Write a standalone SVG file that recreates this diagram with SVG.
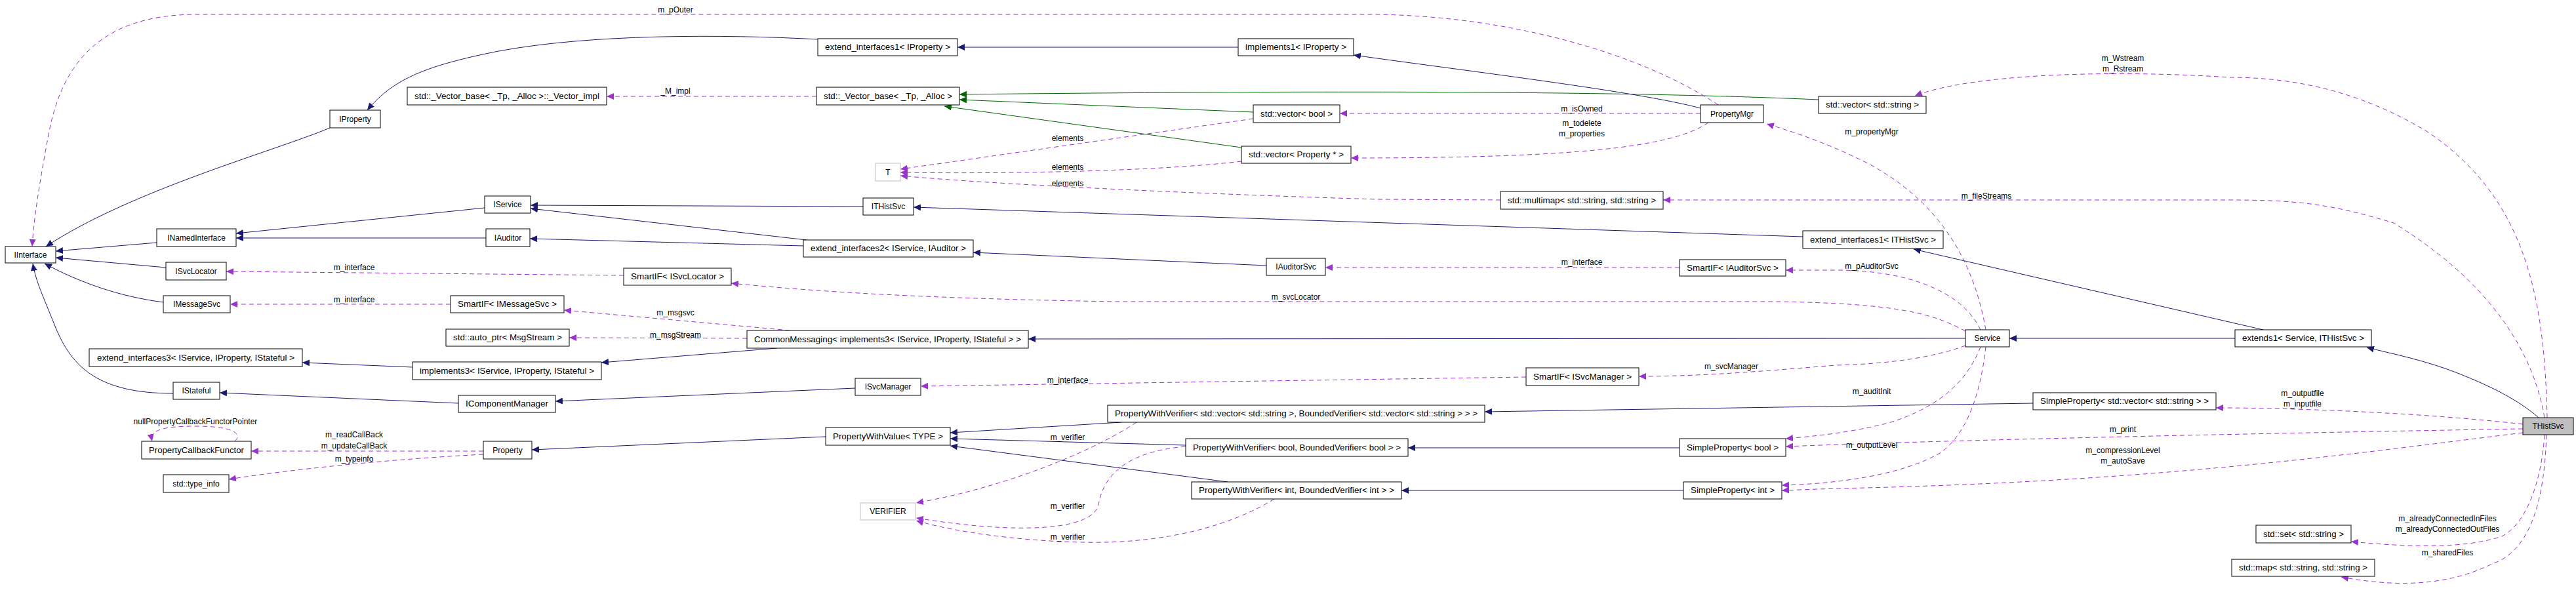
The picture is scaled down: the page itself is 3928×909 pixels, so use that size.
<svg xmlns="http://www.w3.org/2000/svg" width="3928" height="909" viewBox="0 0 3928 909">
<style>
.n rect{fill:#fff;stroke:#000;stroke-width:1}
.n.g rect{stroke:#bfbfbf}
.n.h rect{fill:#bfbfbf}
.n text{font-family:"Liberation Sans",Arial,sans-serif;font-size:12px;text-anchor:middle;fill:#000}
.i{fill:none;stroke:#191970;stroke-width:1;marker-end:url(#ai)}
.t{fill:none;stroke:#006400;stroke-width:1;marker-end:url(#at)}
.u{fill:none;stroke:#9a32cd;stroke-width:1;stroke-dasharray:7,5;marker-end:url(#au)}
.l{font-family:"Liberation Sans",Arial,sans-serif;font-size:12px;text-anchor:middle;fill:#000}
</style>
<defs>
<marker id="ai" markerUnits="userSpaceOnUse" markerWidth="12" markerHeight="10" refX="11" refY="5" orient="auto"><path d="M0,0 L11,5 L0,10 z" fill="#191970"/></marker>
<marker id="at" markerUnits="userSpaceOnUse" markerWidth="12" markerHeight="10" refX="11" refY="5" orient="auto"><path d="M0,0 L11,5 L0,10 z" fill="#006400"/></marker>
<marker id="au" markerUnits="userSpaceOnUse" markerWidth="12" markerHeight="10" refX="11" refY="5" orient="auto"><path d="M0,0 L11,5 L0,10 z" fill="#9a32cd"/></marker>
</defs>
<rect width="3928" height="909" fill="#fff"/>
<g id="edges">
<path class="i" d="M503,195 C420,230 200,290 70,376"/>
<path class="i" d="M239,370 L85,383"/>
<path class="i" d="M253,408 L85,393"/>
<path class="i" d="M249,461 C180,452 120,430 68,402"/>
<path class="i" d="M264,600 C150,600 110,560 85,500 C65,450 55,430 50,402"/>
<path class="i" d="M1247,60 C1100,52 900,52 760,78 C650,100 600,120 560,168"/>
<path class="i" d="M1888,72 L1460,72"/>
<path class="i" d="M2593,165 C2500,140 2250,110 2064,84"/>
<path class="i" d="M739,317 L360,356"/>
<path class="i" d="M741,363 L360,363"/>
<path class="i" d="M1316,315 L809,313"/>
<path class="i" d="M1230,366 L809,318"/>
<path class="i" d="M1225,375 L808,364"/>
<path class="i" d="M1931,405 L1484,385"/>
<path class="i" d="M2749,361 L1393,316"/>
<path class="i" d="M3451,503 L2918,380"/>
<path class="i" d="M3408,516 L3064,516"/>
<path class="i" d="M3871,637 C3840,610 3800,590 3750,570 C3700,550 3650,540 3609,530"/>
<path class="i" d="M2997,516 L1568,517"/>
<path class="i" d="M1185,531 L917,553"/>
<path class="i" d="M629,560 L461,553"/>
<path class="i" d="M1304,592 L847,612"/>
<path class="i" d="M699,615 L335,599"/>
<path class="i" d="M1259,666 L811,686"/>
<path class="i" d="M1710,644 L1449,660"/>
<path class="i" d="M1808,679 L1449,669"/>
<path class="i" d="M1872,735 L1449,680"/>
<path class="i" d="M3100,615 L2264,628"/>
<path class="i" d="M2561,683 L2147,683"/>
<path class="i" d="M2567,748 L2137,748"/>
<path class="t" d="M2773,152 C2500,140 2100,137 1463,144"/>
<path class="t" d="M1911,171 L1463,152"/>
<path class="t" d="M1893,225 L1440,162"/>
<path class="u" d="M2620,160 C2500,80 2300,25 2100,22 L300,22 C150,22 95,100 75,200 C60,280 52,330 49,376"/>
<path class="u" d="M1245,147 L925,147"/>
<path class="u" d="M2593,173 L2043,173"/>
<path class="u" d="M2605,187 C2550,225 2400,241 2060,241"/>
<path class="u" d="M1911,181 L1373,258"/>
<path class="u" d="M1893,246 C1750,263 1500,265 1373,263"/>
<path class="u" d="M2288,305 L2100,304 C1800,295 1500,280 1373,268"/>
<path class="u" d="M3880,637 C3860,520 3780,420 3650,340 C3550,310 3500,305 3400,305 L2536,305"/>
<path class="u" d="M3884,637 C3880,450 3850,300 3700,200 C3600,140 3500,118 3400,118 C3200,105 3000,115 2920,146"/>
<path class="u" d="M3028,503 C3010,400 2960,310 2850,250 C2780,215 2730,200 2694,189"/>
<path class="u" d="M3020,503 C2990,440 2900,412 2800,412 L2723,412"/>
<path class="u" d="M2561,408 L2021,408"/>
<path class="u" d="M2997,505 C2950,480 2900,462 2700,460 L1700,460 C1400,455 1250,445 1115,432"/>
<path class="u" d="M951,420 L345,414"/>
<path class="u" d="M687,464 L351,464"/>
<path class="u" d="M1205,504 L860,473"/>
<path class="u" d="M1139,516 L868,515"/>
<path class="u" d="M2997,527 C2950,545 2880,555 2800,557 C2700,565 2600,574 2499,574"/>
<path class="u" d="M2327,575 L1404,589"/>
<path class="u" d="M3020,529 C3000,580 2960,620 2880,645 C2820,660 2770,665 2723,669"/>
<path class="u" d="M3028,529 C3020,600 3000,660 2960,690 C2900,725 2800,738 2717,740"/>
<path class="u" d="M3847,654 C3500,660 3000,670 2723,681"/>
<path class="u" d="M3847,660 C3600,690 3300,735 2800,745 L2717,748"/>
<path class="u" d="M3847,647 C3700,630 3500,622 3379,622"/>
<path class="u" d="M3880,663 C3875,740 3850,800 3815,818 C3750,840 3650,832 3585,826"/>
<path class="u" d="M3883,663 C3880,760 3860,840 3800,860 C3730,895 3650,895 3570,880"/>
<path class="u" d="M737,688 L383,688"/>
<path class="u" d="M737,693 C600,700 450,715 349,731"/>
<path class="u" d="M358,673 C372,660 350,650 300,650 C250,650 228,655 232,673"/>
<path class="u" d="M1733,644 C1680,680 1550,740 1397,767"/>
<path class="u" d="M1808,681 C1700,690 1680,740 1675,770 C1665,810 1550,815 1397,790"/>
<path class="u" d="M1943,761 C1880,800 1780,830 1650,827 C1550,825 1450,810 1397,794"/>
</g>
<g id="labels">
<text class="l" x="1030" y="19">m_pOuter</text>
<text class="l" x="1030" y="143">_M_impl</text>
<text class="l" x="2412" y="170">m_isOwned</text>
<text class="l" x="2412" y="192">m_todelete</text>
<text class="l" x="2412" y="208">m_properties</text>
<text class="l" x="1628" y="215">elements</text>
<text class="l" x="1628" y="259">elements</text>
<text class="l" x="1628" y="284">elements</text>
<text class="l" x="3237" y="93">m_Wstream</text>
<text class="l" x="3237" y="109">m_Rstream</text>
<text class="l" x="2854" y="205">m_propertyMgr</text>
<text class="l" x="3029" y="303">m_fileStreams</text>
<text class="l" x="2854" y="410">m_pAuditorSvc</text>
<text class="l" x="2412" y="404">m_interface</text>
<text class="l" x="540" y="412">m_interface</text>
<text class="l" x="540" y="461">m_interface</text>
<text class="l" x="1976" y="457">m_svcLocator</text>
<text class="l" x="1030" y="481">m_msgsvc</text>
<text class="l" x="1030" y="515">m_msgStream</text>
<text class="l" x="2640" y="563">m_svcManager</text>
<text class="l" x="1628" y="584">m_interface</text>
<text class="l" x="2854" y="601">m_auditInit</text>
<text class="l" x="3511" y="604">m_outputfile</text>
<text class="l" x="3511" y="620">m_inputfile</text>
<text class="l" x="3237" y="659">m_print</text>
<text class="l" x="2854" y="683">m_outputLevel</text>
<text class="l" x="3237" y="691">m_compressionLevel</text>
<text class="l" x="3237" y="707">m_autoSave</text>
<text class="l" x="1628" y="671">m_verifier</text>
<text class="l" x="1628" y="776">m_verifier</text>
<text class="l" x="1628" y="823">m_verifier</text>
<text class="l" x="298" y="647">nullPropertyCallbackFunctorPointer</text>
<text class="l" x="540" y="667">m_readCallBack</text>
<text class="l" x="540" y="684">m_updateCallBack</text>
<text class="l" x="540" y="704">m_typeinfo</text>
<text class="l" x="3732" y="795">m_alreadyConnectedInFiles</text>
<text class="l" x="3732" y="811">m_alreadyConnectedOutFiles</text>
<text class="l" x="3732" y="847">m_sharedFiles</text>
</g>
<g id="IInterface" class="n"><rect x="8" y="376" width="77" height="25"/><text x="46.5" y="392.5">IInterface</text></g>
<g id="IProperty" class="n"><rect x="503" y="168" width="77" height="27"/><text x="541.5" y="185.5">IProperty</text></g>
<g id="INamedInterface" class="n"><rect x="239" y="349" width="121" height="27"/><text x="299.5" y="366.5">INamedInterface</text></g>
<g id="ISvcLocator" class="n"><rect x="253" y="400" width="92" height="27"/><text x="299" y="417.5">ISvcLocator</text></g>
<g id="IMessageSvc" class="n"><rect x="249" y="451" width="102" height="26"/><text x="300" y="468">IMessageSvc</text></g>
<g id="extend_interfaces3" class="n"><rect x="136" y="532" width="325" height="27"/><text x="298.5" y="549.5" textLength="301" lengthAdjust="spacingAndGlyphs">extend_interfaces3&lt; IService, IProperty, IStateful &gt;</text></g>
<g id="IStateful" class="n"><rect x="264" y="583" width="71" height="26"/><text x="299.5" y="600">IStateful</text></g>
<g id="PropertyCallbackFunctor" class="n"><rect x="216" y="673" width="167" height="27"/><text x="299.5" y="690.5" textLength="145" lengthAdjust="spacingAndGlyphs">PropertyCallbackFunctor</text></g>
<g id="type_info" class="n"><rect x="249" y="724" width="100" height="27"/><text x="299" y="741.5">std::type_info</text></g>
<g id="Vector_impl" class="n"><rect x="621" y="133" width="304" height="27"/><text x="773" y="150.5" textLength="282" lengthAdjust="spacingAndGlyphs">std::_Vector_base&lt; _Tp, _Alloc &gt;::_Vector_impl</text></g>
<g id="Vector_base" class="n"><rect x="1245" y="133" width="218" height="27"/><text x="1354" y="150.5" textLength="196" lengthAdjust="spacingAndGlyphs">std::_Vector_base&lt; _Tp, _Alloc &gt;</text></g>
<g id="extend_interfaces1_IProperty" class="n"><rect x="1247" y="59" width="213" height="26"/><text x="1353.5" y="76" textLength="191" lengthAdjust="spacingAndGlyphs">extend_interfaces1&lt; IProperty &gt;</text></g>
<g id="T" class="n g"><rect x="1335" y="249" width="38" height="27"/><text x="1354" y="266.5">T</text></g>
<g id="IService" class="n"><rect x="739" y="299" width="70" height="26"/><text x="774" y="316">IService</text></g>
<g id="IAuditor" class="n"><rect x="741" y="349" width="67" height="27"/><text x="774.5" y="366.5">IAuditor</text></g>
<g id="ITHistSvc" class="n"><rect x="1316" y="302" width="77" height="26"/><text x="1354.5" y="319">ITHistSvc</text></g>
<g id="extend_interfaces2" class="n"><rect x="1225" y="366" width="259" height="26"/><text x="1354.5" y="383" textLength="237" lengthAdjust="spacingAndGlyphs">extend_interfaces2&lt; IService, IAuditor &gt;</text></g>
<g id="SmartIF_ISvcLocator" class="n"><rect x="951" y="409" width="164" height="26"/><text x="1033" y="426" textLength="142" lengthAdjust="spacingAndGlyphs">SmartIF&lt; ISvcLocator &gt;</text></g>
<g id="SmartIF_IMessageSvc" class="n"><rect x="687" y="451" width="173" height="26"/><text x="773.5" y="468" textLength="151" lengthAdjust="spacingAndGlyphs">SmartIF&lt; IMessageSvc &gt;</text></g>
<g id="auto_ptr" class="n"><rect x="680" y="502" width="188" height="26"/><text x="774" y="519" textLength="166" lengthAdjust="spacingAndGlyphs">std::auto_ptr&lt; MsgStream &gt;</text></g>
<g id="implements3" class="n"><rect x="629" y="552" width="288" height="27"/><text x="773" y="569.5" textLength="266" lengthAdjust="spacingAndGlyphs">implements3&lt; IService, IProperty, IStateful &gt;</text></g>
<g id="IComponentManager" class="n"><rect x="699" y="603" width="148" height="26"/><text x="773" y="620" textLength="126" lengthAdjust="spacingAndGlyphs">IComponentManager</text></g>
<g id="Property" class="n"><rect x="737" y="673" width="74" height="27"/><text x="774" y="690.5">Property</text></g>
<g id="CommonMessaging" class="n"><rect x="1139" y="504" width="429" height="27"/><text x="1353.5" y="521.5" textLength="407" lengthAdjust="spacingAndGlyphs">CommonMessaging&lt; implements3&lt; IService, IProperty, IStateful &gt; &gt;</text></g>
<g id="ISvcManager" class="n"><rect x="1304" y="577" width="100" height="26"/><text x="1354" y="594">ISvcManager</text></g>
<g id="PropertyWithValue" class="n"><rect x="1259" y="652" width="190" height="27"/><text x="1354" y="669.5" textLength="168" lengthAdjust="spacingAndGlyphs">PropertyWithValue&lt; TYPE &gt;</text></g>
<g id="VERIFIER" class="n g"><rect x="1312" y="767" width="84" height="26"/><text x="1354" y="784">VERIFIER</text></g>
<g id="implements1" class="n"><rect x="1888" y="59" width="176" height="26"/><text x="1976" y="76" textLength="154" lengthAdjust="spacingAndGlyphs">implements1&lt; IProperty &gt;</text></g>
<g id="vector_bool" class="n"><rect x="1911" y="160" width="132" height="27"/><text x="1977" y="177.5" textLength="110" lengthAdjust="spacingAndGlyphs">std::vector&lt; bool &gt;</text></g>
<g id="vector_Property" class="n"><rect x="1893" y="223" width="167" height="26"/><text x="1976.5" y="240" textLength="145" lengthAdjust="spacingAndGlyphs">std::vector&lt; Property * &gt;</text></g>
<g id="IAuditorSvc" class="n"><rect x="1931" y="394" width="90" height="26"/><text x="1976" y="411">IAuditorSvc</text></g>
<g id="PWV_vector" class="n"><rect x="1689" y="618" width="575" height="26"/><text x="1976.5" y="635" textLength="553" lengthAdjust="spacingAndGlyphs">PropertyWithVerifier&lt; std::vector&lt; std::string &gt;, BoundedVerifier&lt; std::vector&lt; std::string &gt; &gt; &gt;</text></g>
<g id="PWV_bool" class="n"><rect x="1808" y="669" width="339" height="27"/><text x="1977.5" y="686.5" textLength="317" lengthAdjust="spacingAndGlyphs">PropertyWithVerifier&lt; bool, BoundedVerifier&lt; bool &gt; &gt;</text></g>
<g id="PWV_int" class="n"><rect x="1817" y="735" width="320" height="26"/><text x="1977" y="752" textLength="298" lengthAdjust="spacingAndGlyphs">PropertyWithVerifier&lt; int, BoundedVerifier&lt; int &gt; &gt;</text></g>
<g id="PropertyMgr" class="n"><rect x="2593" y="160" width="96" height="27"/><text x="2641" y="177.5">PropertyMgr</text></g>
<g id="vector_string" class="n"><rect x="2773" y="147" width="164" height="26"/><text x="2855" y="164" textLength="142" lengthAdjust="spacingAndGlyphs">std::vector&lt; std::string &gt;</text></g>
<g id="multimap" class="n"><rect x="2288" y="292" width="248" height="27"/><text x="2412" y="309.5" textLength="226" lengthAdjust="spacingAndGlyphs">std::multimap&lt; std::string, std::string &gt;</text></g>
<g id="extend_interfaces1_ITHistSvc" class="n"><rect x="2749" y="352" width="214" height="27"/><text x="2856" y="369.5" textLength="192" lengthAdjust="spacingAndGlyphs">extend_interfaces1&lt; ITHistSvc &gt;</text></g>
<g id="SmartIF_IAuditorSvc" class="n"><rect x="2561" y="396" width="162" height="25"/><text x="2642" y="412.5" textLength="140" lengthAdjust="spacingAndGlyphs">SmartIF&lt; IAuditorSvc &gt;</text></g>
<g id="SmartIF_ISvcManager" class="n"><rect x="2327" y="561" width="172" height="27"/><text x="2413" y="578.5" textLength="150" lengthAdjust="spacingAndGlyphs">SmartIF&lt; ISvcManager &gt;</text></g>
<g id="SimpleProperty_bool" class="n"><rect x="2561" y="669" width="162" height="27"/><text x="2642" y="686.5" textLength="140" lengthAdjust="spacingAndGlyphs">SimpleProperty&lt; bool &gt;</text></g>
<g id="SimpleProperty_int" class="n"><rect x="2567" y="735" width="150" height="26"/><text x="2642" y="752" textLength="128" lengthAdjust="spacingAndGlyphs">SimpleProperty&lt; int &gt;</text></g>
<g id="Service" class="n"><rect x="2997" y="503" width="67" height="26"/><text x="3030.5" y="520">Service</text></g>
<g id="extends1" class="n"><rect x="3408" y="503" width="208" height="26"/><text x="3512" y="520" textLength="186" lengthAdjust="spacingAndGlyphs">extends1&lt; Service, ITHistSvc &gt;</text></g>
<g id="SimpleProperty_vector" class="n"><rect x="3100" y="599" width="279" height="26"/><text x="3239.5" y="616" textLength="257" lengthAdjust="spacingAndGlyphs">SimpleProperty&lt; std::vector&lt; std::string &gt; &gt;</text></g>
<g id="set" class="n"><rect x="3440" y="801" width="145" height="27"/><text x="3512.5" y="818.5" textLength="123" lengthAdjust="spacingAndGlyphs">std::set&lt; std::string &gt;</text></g>
<g id="map" class="n"><rect x="3403" y="853" width="218" height="26"/><text x="3512" y="870" textLength="196" lengthAdjust="spacingAndGlyphs">std::map&lt; std::string, std::string &gt;</text></g>
<g id="THistSvc" class="n h"><rect x="3847" y="637" width="77" height="26"/><text x="3885.5" y="654">THistSvc</text></g>
</svg>
